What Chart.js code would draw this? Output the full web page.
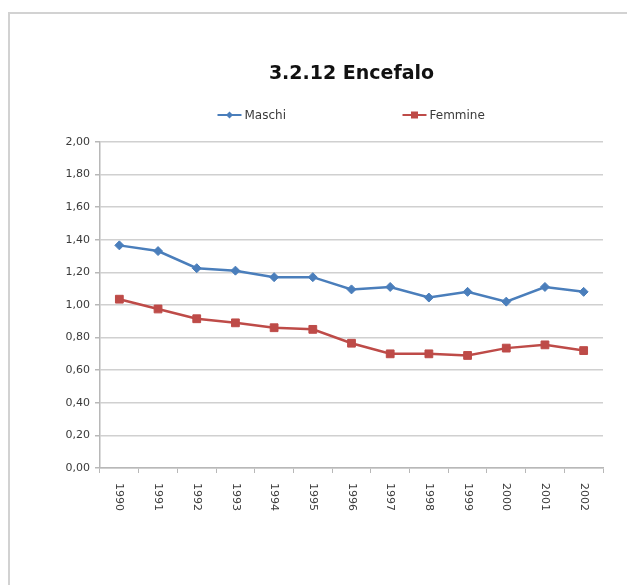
<!DOCTYPE html>
<html>
<head>
<meta charset="utf-8">
<script src="https://cdn.jsdelivr.net/npm/chart.js@4"></script>
<style>
  html, body { margin: 0; padding: 0; background: #fff; }
  #wrap { position: relative; width: 627px; height: 585px; overflow: hidden; }
  #frame { position: absolute; left: 8px; top: 12px; width: 700px; height: 700px;
           border-left: 2px solid #d2d2d2; border-top: 2px solid #d2d2d2; }
  canvas { position: absolute; left: 0; top: 0; }
</style>
</head>
<body>
<div id="wrap">
  <div id="frame"></div>
  <canvas id="grafico" width="627" height="585"></canvas>
</div>
<script>
const anni = ['1990', '1991', '1992', '1993', '1994', '1995', '1996', '1997', '1998', '1999', '2000', '2001', '2002'];
const maschi = [1.365, 1.33, 1.225, 1.21, 1.17, 1.17, 1.095, 1.11, 1.045, 1.08, 1.02, 1.11, 1.08];
const femmine = [1.035, 0.975, 0.915, 0.89, 0.86, 0.85, 0.765, 0.70, 0.70, 0.69, 0.735, 0.755, 0.72];
const titolo = '3.2.12 Encefalo';

const BLU = '#4a7ebb';
const ROSSO = '#be4b48';
const FONT = '"DejaVu Sans", Verdana, sans-serif';

// etichette degli anni ruotate in senso orario (come in Excel)
const etichetteAnni = {
  id: 'etichetteAnni',
  afterDraw(chart) {
    const ctx = chart.ctx;
    const x = chart.scales.x;
    ctx.save();
    ctx.font = '11px ' + FONT;
    ctx.fillStyle = '#3a3a3a';
    ctx.textAlign = 'left';
    ctx.textBaseline = 'middle';
    x.ticks.forEach((t, i) => {
      ctx.save();
      ctx.translate(x.getPixelForTick(i), x.bottom + 10);
      ctx.rotate(Math.PI / 2);
      ctx.fillText(x.getLabelForValue(t.value), 0, 0);
      ctx.restore();
    });
    ctx.restore();
  }
};

// legenda con linea + marcatore, voci molto distanziate
const legenda = {
  id: 'legenda',
  afterDraw(chart) {
    const ctx = chart.ctx;
    const area = chart.chartArea;
    const cx = (area.left + area.right) / 2;
    const y = 115;
    const starts = [cx - 134, cx + 51];
    ctx.save();
    ctx.font = '12px ' + FONT;
    ctx.textBaseline = 'middle';
    chart.data.datasets.forEach((ds, i) => {
      const x0 = starts[i];
      ctx.strokeStyle = ds.borderColor;
      ctx.lineWidth = 2;
      ctx.beginPath();
      ctx.moveTo(x0, y);
      ctx.lineTo(x0 + 24, y);
      ctx.stroke();
      ctx.fillStyle = ds.borderColor;
      ctx.beginPath();
      if (ds.pointStyle === 'rect') {
        ctx.rect(x0 + 12 - 3.5, y - 3.5, 7, 7);
      } else {
        ctx.moveTo(x0 + 12, y - 3.5);
        ctx.lineTo(x0 + 15.5, y);
        ctx.lineTo(x0 + 12, y + 3.5);
        ctx.lineTo(x0 + 8.5, y);
        ctx.closePath();
      }
      ctx.fill();
      ctx.fillStyle = '#3a3a3a';
      ctx.fillText(ds.label, x0 + 27, y + 1);
    });
    ctx.restore();
  }
};

const ctx = document.getElementById('grafico').getContext('2d');
new Chart(ctx, {
  type: 'line',
  data: {
    labels: anni,
    datasets: [{
      label: 'Maschi',
      data: maschi,
      borderColor: BLU,
      backgroundColor: BLU,
      borderWidth: 2.5,
      pointStyle: 'rectRot',
      pointRadius: 4.5,
      pointBackgroundColor: BLU,
      pointBorderColor: BLU,
      pointBorderWidth: 1,
      tension: 0,
    }, {
      label: 'Femmine',
      data: femmine,
      borderColor: ROSSO,
      backgroundColor: ROSSO,
      borderWidth: 2.5,
      pointStyle: 'rect',
      pointRadius: 5.5,
      pointBackgroundColor: ROSSO,
      pointBorderColor: ROSSO,
      pointBorderWidth: 1,
      tension: 0,
    }],
  },
  options: {
    responsive: false,
    animation: false,
    layout: { padding: { top: 0, left: 0, right: 24, bottom: 112 } },
    plugins: {
      legend: { display: false },
      tooltip: { enabled: false },
      title: {
        display: true,
        text: titolo,
        fullSize: false,
        color: '#111',
        font: { family: FONT, size: 19, weight: 'bold' },
        padding: { top: 63, bottom: 56 },
      },
    },
    scales: {
      x: {
        offset: true,
        border: { color: '#b8b8b8', width: 1.5 },
        grid: { offset: true, drawOnChartArea: false, drawTicks: true, tickLength: 5, color: '#b8b8b8' },
        ticks: { display: false },
      },
      y: {
        min: 0,
        max: 2,
        afterFit: s => { s.width = 100; },
        border: { color: '#b8b8b8', width: 1.5 },
        grid: { color: '#d0d0d0', lineWidth: 1.5, tickLength: 5, tickColor: '#b8b8b8' },
        ticks: {
          stepSize: 0.2,
          padding: 5,
          color: '#3a3a3a',
          font: { family: FONT, size: 11 },
          callback: v => v.toFixed(2).replace('.', ','),
        },
      },
    },
  },
  plugins: [etichetteAnni, legenda],
});
</script>
</body>
</html>
